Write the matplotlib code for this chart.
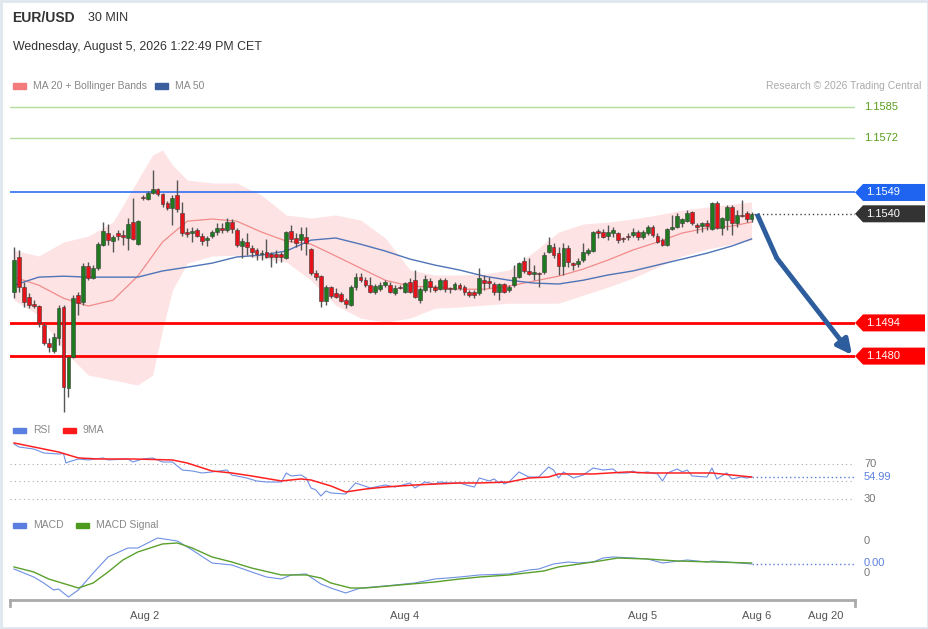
import matplotlib
matplotlib.use("Agg")
import matplotlib.pyplot as plt
from matplotlib.patches import Polygon, Rectangle

plt.rcParams['font.family'] = ['Liberation Sans', 'DejaVu Sans']

# ---------------- data ----------------
# 30 min candles, index 0..149
opens = [1.15070, 1.15218, 1.15091, 1.15049, 1.15019, 1.15011, 1.14931, 1.14855, 1.14821, 1.14876,
         1.15007, 1.14665, 1.14796, 1.15057, 1.15028, 1.15180, 1.15129, 1.15171, 1.15268, 1.15319,
         1.15285, 1.15319, 1.15310, 1.15298, 1.15365, 1.15272, 1.15471, 1.15462, 1.15488, 1.15504,
         1.15483, 1.15445, 1.15424, 1.15479, 1.15403, 1.15323, 1.15319, 1.15331, 1.15306, 1.15289,
         1.15306, 1.15323, 1.15340, 1.15331, 1.15365, 1.15331, 1.15264, 1.15281, 1.15256, 1.15247,
         1.15230, 1.15239, 1.15230, 1.15230, 1.15230, 1.15213, 1.15327, 1.15298, 1.15289, 1.15302,
         1.15251, 1.15150, 1.15137, 1.15032, 1.15091, 1.15066, 1.15061, 1.15036, 1.15015, 1.15091,
         1.15133, 1.15120, 1.15099, 1.15070, 1.15082, 1.15099, 1.15099, 1.15066, 1.15091, 1.15070,
         1.15112, 1.15120, 1.15036, 1.15078, 1.15116, 1.15091, 1.15082, 1.15120, 1.15087, 1.15082,
         1.15099, 1.15091, 1.15070, 1.15070, 1.15066, 1.15120, 1.15116, 1.15104, 1.15070, 1.15104,
         1.15078, 1.15099, 1.15133, 1.15201, 1.15159, 1.15146, 1.15150, 1.15154, 1.15239, 1.15260,
         1.15234, 1.15180, 1.15256, 1.15192, 1.15188, 1.15205, 1.15234, 1.15243, 1.15327, 1.15323,
         1.15306, 1.15319, 1.15319, 1.15298, 1.15306, 1.15310, 1.15323, 1.15302, 1.15319, 1.15344,
         1.15306, 1.15289, 1.15268, 1.15336, 1.15344, 1.15361, 1.15369, 1.15407, 1.15353, 1.15348,
         1.15361, 1.15336, 1.15445, 1.15340, 1.15374, 1.15428, 1.15361, 1.15395, 1.15403, 1.15378]
highs = [1.15260, 1.15247, 1.15112, 1.15066, 1.15036, 1.15015, 1.14939, 1.14876, 1.14897, 1.15015,
         1.15015, 1.14796, 1.15057, 1.15070, 1.15192, 1.15197, 1.15184, 1.15281, 1.15365, 1.15357,
         1.15310, 1.15331, 1.15331, 1.15382, 1.15466, 1.15374, 1.15479, 1.15496, 1.15585, 1.15509,
         1.15488, 1.15454, 1.15479, 1.15542, 1.15450, 1.15340, 1.15344, 1.15340, 1.15319, 1.15306,
         1.15331, 1.15361, 1.15361, 1.15382, 1.15378, 1.15340, 1.15298, 1.15319, 1.15268, 1.15256,
         1.15247, 1.15294, 1.15239, 1.15247, 1.15239, 1.15327, 1.15353, 1.15319, 1.15344, 1.15344,
         1.15256, 1.15163, 1.15142, 1.15099, 1.15095, 1.15087, 1.15070, 1.15044, 1.15099, 1.15150,
         1.15150, 1.15133, 1.15133, 1.15104, 1.15112, 1.15120, 1.15112, 1.15099, 1.15099, 1.15112,
         1.15129, 1.15163, 1.15091, 1.15142, 1.15129, 1.15099, 1.15129, 1.15129, 1.15091, 1.15112,
         1.15108, 1.15099, 1.15078, 1.15078, 1.15171, 1.15142, 1.15133, 1.15112, 1.15108, 1.15108,
         1.15099, 1.15184, 1.15197, 1.15218, 1.15213, 1.15184, 1.15154, 1.15239, 1.15302, 1.15277,
         1.15260, 1.15277, 1.15268, 1.15197, 1.15213, 1.15277, 1.15256, 1.15327, 1.15336, 1.15336,
         1.15353, 1.15344, 1.15323, 1.15302, 1.15319, 1.15340, 1.15331, 1.15331, 1.15353, 1.15353,
         1.15319, 1.15298, 1.15340, 1.15395, 1.15403, 1.15382, 1.15416, 1.15412, 1.15361, 1.15365,
         1.15374, 1.15450, 1.15454, 1.15386, 1.15437, 1.15437, 1.15416, 1.15458, 1.15412, 1.15407]
lows = [1.15044, 1.15070, 1.15007, 1.15002, 1.15002, 1.14922, 1.14846, 1.14817, 1.14813, 1.14846,
        1.14564, 1.14627, 1.14792, 1.14973, 1.15015, 1.15120, 1.15125, 1.15163, 1.15264, 1.15268,
        1.15239, 1.15289, 1.15268, 1.15247, 1.15289, 1.15268, 1.15458, 1.15458, 1.15483, 1.15475,
        1.15428, 1.15416, 1.15353, 1.15407, 1.15306, 1.15302, 1.15281, 1.15302, 1.15268, 1.15264,
        1.15298, 1.15310, 1.15319, 1.15323, 1.15319, 1.15260, 1.15213, 1.15226, 1.15218, 1.15205,
        1.15205, 1.15213, 1.15175, 1.15192, 1.15197, 1.15209, 1.15281, 1.15260, 1.15247, 1.15226,
        1.15142, 1.15120, 1.15007, 1.15015, 1.15044, 1.15044, 1.15028, 1.15002, 1.15011, 1.15078,
        1.15112, 1.15091, 1.15066, 1.15061, 1.15074, 1.15091, 1.15066, 1.15057, 1.15082, 1.15066,
        1.15066, 1.15044, 1.15023, 1.15070, 1.15070, 1.15070, 1.15078, 1.15070, 1.15066, 1.15078,
        1.15078, 1.15057, 1.15049, 1.15044, 1.15057, 1.15078, 1.15087, 1.15057, 1.15036, 1.15066,
        1.15070, 1.15091, 1.15129, 1.15150, 1.15142, 1.15120, 1.15091, 1.15146, 1.15234, 1.15213,
        1.15142, 1.15142, 1.15175, 1.15163, 1.15175, 1.15197, 1.15226, 1.15239, 1.15298, 1.15298,
        1.15289, 1.15302, 1.15277, 1.15281, 1.15289, 1.15302, 1.15289, 1.15294, 1.15310, 1.15302,
        1.15277, 1.15264, 1.15264, 1.15331, 1.15340, 1.15344, 1.15365, 1.15353, 1.15319, 1.15323,
        1.15331, 1.15331, 1.15336, 1.15310, 1.15331, 1.15310, 1.15344, 1.15386, 1.15365, 1.15365]
closes = [1.15205, 1.15091, 1.15028, 1.15015, 1.15011, 1.14939, 1.14855, 1.14838, 1.14880, 1.15002,
          1.14669, 1.14796, 1.15044, 1.15023, 1.15180, 1.15129, 1.15171, 1.15272, 1.15327, 1.15289,
          1.15302, 1.15306, 1.15302, 1.15357, 1.15294, 1.15369, 1.15466, 1.15488, 1.15504, 1.15483,
          1.15441, 1.15424, 1.15466, 1.15420, 1.15319, 1.15315, 1.15327, 1.15306, 1.15285, 1.15298,
          1.15323, 1.15340, 1.15331, 1.15365, 1.15336, 1.15268, 1.15285, 1.15260, 1.15239, 1.15230,
          1.15234, 1.15218, 1.15218, 1.15218, 1.15218, 1.15323, 1.15294, 1.15277, 1.15315, 1.15277,
          1.15150, 1.15133, 1.15032, 1.15091, 1.15053, 1.15049, 1.15032, 1.15019, 1.15091, 1.15133,
          1.15120, 1.15099, 1.15070, 1.15095, 1.15099, 1.15112, 1.15070, 1.15087, 1.15087, 1.15108,
          1.15070, 1.15049, 1.15082, 1.15125, 1.15091, 1.15078, 1.15120, 1.15082, 1.15082, 1.15104,
          1.15087, 1.15070, 1.15057, 1.15057, 1.15129, 1.15108, 1.15108, 1.15070, 1.15104, 1.15070,
          1.15091, 1.15133, 1.15192, 1.15159, 1.15146, 1.15154, 1.15146, 1.15226, 1.15268, 1.15226,
          1.15180, 1.15256, 1.15197, 1.15184, 1.15201, 1.15239, 1.15247, 1.15323, 1.15319, 1.15302,
          1.15323, 1.15331, 1.15289, 1.15294, 1.15302, 1.15323, 1.15302, 1.15323, 1.15344, 1.15310,
          1.15281, 1.15268, 1.15336, 1.15344, 1.15391, 1.15378, 1.15403, 1.15361, 1.15344, 1.15361,
          1.15348, 1.15445, 1.15340, 1.15382, 1.15428, 1.15361, 1.15395, 1.15391, 1.15378, 1.15399]

# moving averages sampled every 5 candles
ma_idx = [0, 5, 10, 15, 20, 25, 30, 35, 40, 45, 50, 55, 60, 65, 70, 75, 80, 85, 90, 95,
          100, 105, 110, 115, 120, 125, 130, 135, 140, 145, 149]
ma50 = [1.15099, 1.15133, 1.15137, 1.15133, 1.15133, 1.15133, 1.15159, 1.15175, 1.15192, 1.15218,
        1.15226, 1.15243, 1.15289, 1.15298, 1.15272, 1.15243, 1.15209, 1.15184, 1.15163, 1.15137,
        1.15120, 1.15108, 1.15104, 1.15120, 1.15142, 1.15159, 1.15184, 1.15209, 1.15234, 1.15264,
        1.15294]
ma20 = [1.15133, 1.15099, 1.15044, 1.15011, 1.15036, 1.15137, 1.15281, 1.15369, 1.15378, 1.15369,
        1.15323, 1.15285, 1.15272, 1.15222, 1.15171, 1.15120, 1.15095, 1.15091, 1.15082, 1.15082,
        1.15095, 1.15116, 1.15137, 1.15167, 1.15205, 1.15247, 1.15281, 1.15319, 1.15340, 1.15348,
        1.15365]

band_idx = [0, 5, 10, 15, 20, 25, 28, 30, 32, 35, 40, 45, 50, 55, 60, 65, 70, 75, 80, 85,
            90, 95, 100, 105, 110, 115, 120, 125, 130, 135, 140, 145, 149]
bb_upper = [1.15247, 1.15222, 1.15281, 1.15306, 1.15365, 1.15542, 1.15648, 1.15669, 1.15606, 1.15542,
            1.15530, 1.15530, 1.15479, 1.15395, 1.15382, 1.15395, 1.15374, 1.15298, 1.15163, 1.15142,
            1.15142, 1.15146, 1.15163, 1.15239, 1.15323, 1.15357, 1.15365, 1.15378, 1.15395, 1.15416,
            1.15428, 1.15441, 1.15450]
bb_lower = [1.15036, 1.14973, 1.14825, 1.14720, 1.14699, 1.14678, 1.14720, 1.14910, 1.15078, 1.15192,
            1.15222, 1.15226, 1.15213, 1.15197, 1.15120, 1.15015, 1.14960, 1.14943, 1.14960, 1.15002,
            1.15007, 1.15015, 1.15023, 1.15023, 1.15023, 1.15057, 1.15091, 1.15129, 1.15175, 1.15222,
            1.15251, 1.15272, 1.15289]

# key levels
level_green = [1.1585, 1.1572]
level_blue = 1.1549
level_last = 1.1540
level_red = [1.1494, 1.1480]

# expected path (candle index, price)
path_idx = [150.1, 154.1, 169.3]
path_price = [1.1540, 1.15213, 1.14805]

# RSI(14) and its 9-period MA
rsi_idx = [0, 1, 4, 6, 9, 10, 10.5, 11, 13, 15, 18, 19, 23, 24, 26, 28, 30, 32, 34, 36,
           38, 40, 43, 44, 47, 49, 51, 54, 55, 56, 58, 59, 60, 61, 62, 63, 64, 67, 69, 72,
           75, 77, 80, 81, 83, 85, 86, 88, 90, 92, 93, 94, 96, 97, 98, 98.5, 99, 100, 102, 104,
           106, 108, 109, 110, 111, 113, 115, 117, 119, 121, 122, 124, 125, 126, 128, 130, 131, 132, 134, 135,
           136, 137, 140, 141, 142, 144, 145, 147, 148, 149]
rsi = [92.9, 89.4, 87.1, 82.6, 81.4, 81.9, 71.1, 72.3, 75.7, 74.6, 76.9, 74.6, 75.7, 72.3, 75.7, 76.9, 72.3, 72.3, 63.1, 62.0,
       59.7, 60.9, 63.1, 57.4, 54.0, 50.6, 49.4, 49.4, 59.7, 56.3, 57.4, 54.0, 42.6, 40.3, 33.4, 39.1, 36.9, 35.7, 48.3, 42.6,
       46.0, 43.7, 48.3, 42.6, 49.4, 47.1, 49.4, 48.3, 48.3, 44.9, 43.7, 54.0, 50.6, 52.9, 48.3, 50.6, 47.1, 49.4, 60.9, 55.1,
       55.1, 66.6, 63.1, 54.0, 60.9, 54.0, 57.4, 65.4, 63.1, 64.3, 59.7, 59.7, 62.0, 59.7, 60.9, 58.6, 50.6, 59.7, 64.3, 60.9,
       63.1, 56.3, 55.1, 65.4, 52.9, 59.7, 52.9, 55.1, 54.0, 54.99]
rsi_ma_idx = [0, 9, 13, 17, 24, 32, 35, 40, 44, 48, 54, 58, 60, 64, 67, 71, 75, 81, 90, 94,
              100, 104, 108, 110, 117, 124, 128, 134, 141, 149]
rsi_ma = [94.0, 83.7, 76.9, 75.7, 75.7, 74.6, 71.1, 62.0, 59.7, 56.3, 50.6, 52.9, 51.7, 44.9, 38.0, 41.4, 43.7, 46.0, 48.3, 48.3,
          49.4, 54.0, 55.1, 58.6, 58.6, 60.9, 59.7, 59.7, 59.7, 55.1]

# MACD and signal
macd_idx = [0, 4, 6, 8, 9, 11, 13, 16, 19, 23, 25, 29, 33, 36, 40, 44, 48, 51, 54, 56,
            59, 62, 64, 67, 70, 75, 81, 85, 90, 94, 100, 104, 106, 109, 112, 114, 117, 119, 121, 125,
            128, 131, 136, 140, 141, 144, 149]
macd = [0.000048, -0.000081, -0.000177, -0.000290, -0.000274, -0.000403, -0.000290, -0.000016, 0.000242, 0.000386,
        0.000386, 0.000547, 0.000499, 0.000354, 0.000145, 0.000113, 0.0, -0.000081, -0.000113, -0.000048,
        -0.000032, -0.000193, -0.000258, -0.000338, -0.000258, -0.000225, -0.000177, -0.000113, -0.000081, -0.000048,
        -0.000032, 0.000032, 0.000048, 0.000129, 0.000161, 0.000145, 0.000161, 0.000225, 0.000242, 0.000225,
        0.000209, 0.000145, 0.000193, 0.000161, 0.000177, 0.000161, 0.000129]
sig_idx = [0, 4, 7, 11, 13, 16, 19, 22, 25, 30, 33, 36, 40, 44, 48, 54, 59, 62, 64, 68,
           71, 78, 85, 90, 94, 100, 107, 110, 117, 122, 128, 134, 141, 149]
signal = [0.000081, 0.0, -0.000113, -0.000209, -0.000258, -0.000177, 0.0, 0.000193, 0.000322, 0.000451,
          0.000467, 0.000386, 0.000242, 0.000161, 0.000064, -0.000048, -0.000048, -0.000097, -0.000177, -0.000258,
          -0.000258, -0.000209, -0.000161, -0.000113, -0.000081, -0.000048, 0.000016, 0.000081, 0.000161, 0.000225,
          0.000209, 0.000177, 0.000161, 0.000145]

tick_pos = [26.3, 79, 127, 150, 164]
tick_labels = ["Aug 2", "Aug 4", "Aug 5", "Aug 6", "Aug 20"]

# ---------------- styling ----------------
W, H = 929, 629
GREEN = '#1f7a1f'
RED = '#e8121a'
WICK = '#555555'
XLIM = (-0.81, 169.9)


def box(x0, y0, x1, y1):
    # pixel box (top-left origin) -> figure fraction rect
    return [x0 / W, 1 - y1 / H, (x1 - x0) / W, (y1 - y0) / H]


def clean(ax):
    for s in ax.spines.values():
        s.set_visible(False)
    ax.set_xticks([])
    ax.set_yticks([])
    ax.set_xlim(*XLIM)


fig = plt.figure(figsize=(W / 100, H / 100), dpi=100)
fig.patch.set_facecolor('white')
fig.patches.append(Rectangle((0.001, 0.001), 0.998, 0.998, transform=fig.transFigure,
                             fill=False, edgecolor='#dfe6ee', lw=2))

# header
fig.text(12 / W, 1 - 18 / H, "EUR/USD", fontsize=10, fontweight='bold', color='#333333', va='center')
fig.text(88 / W, 1 - 18 / H, "30 MIN", fontsize=9, color='#333333', va='center')
fig.text(13 / W, 1 - 47 / H, "Wednesday, August 5, 2026 1:22:49 PM CET", fontsize=8.9,
         color='#333333', va='center')


def legend_item(x, y, color, label):
    fig.patches.append(Rectangle((x / W, 1 - (y + 2.5) / H), 13 / W, 5 / H,
                                 transform=fig.transFigure, color=color))
    fig.text((x + 20) / W, 1 - y / H, label, fontsize=7.5, color='#888888', va='center')


legend_item(13, 86, '#f47b7b', "MA 20 + Bollinger Bands")
legend_item(155, 86, '#3a5e9e', "MA 50")
fig.text(921 / W, 1 - 86 / H, "Research \u00a9 2026 Trading Central", fontsize=7.5,
         color='#aaaaaa', va='center', ha='right')

# ---------------- price panel ----------------
ax = fig.add_axes(box(10, 95, 855, 418))
clean(ax)
ax.set_ylim(1.14539, 1.15901)

ax.fill_between(band_idx, bb_lower, bb_upper, color='#fde3e3', lw=0, zorder=1)
ax.plot(ma_idx, ma20, color='#f28b8b', lw=0.9, zorder=2)
ax.plot(ma_idx, ma50, color='#4f74b8', lw=1.0, zorder=2)

for lv in level_green:
    ax.axhline(lv, color='#b7dc9f', lw=1, zorder=1)
ax.axhline(level_blue, color='#2f6ff0', lw=1.2, zorder=1)
for lv in level_red:
    ax.axhline(lv, color='#ff0000', lw=2, zorder=1)

xs = list(range(len(opens)))
ax.vlines(xs, lows, highs, color=WICK, lw=1, zorder=3)
for i in xs:
    o, c = opens[i], closes[i]
    col = GREEN if c >= o else RED
    h = max(abs(c - o), 0.00003)
    ax.bar(i, h, bottom=min(o, c), width=0.78, color=col, edgecolor='#3a3a3a',
           linewidth=0.4, zorder=4)

ax.hlines(level_last, xs[-1] + 0.5, XLIM[1], colors='#444444', linestyles=(0, (1, 2)), lw=1, zorder=3)

# projected path
ax.plot(path_idx[:2], path_price[:2], color='#2d5d9c', lw=3.5, solid_capstyle='butt', zorder=5)
ax.annotate("", xy=(path_idx[2], path_price[2]), xytext=(path_idx[1], path_price[1]),
            arrowprops=dict(arrowstyle='-|>', color='#2d5d9c', lw=3.5, mutation_scale=22,
                            shrinkA=0, shrinkB=0), zorder=5, annotation_clip=False)

fig.canvas.draw()


def price_px(price):
    return ax.transData.transform((0, price))[1]


def tag(price, text, color):
    y = price_px(price)
    hh = 8.5
    pts = [(855, y), (863, y - hh), (925, y - hh), (925, y + hh), (863, y + hh)]
    pts = [(px / W, py / H) for px, py in pts]
    fig.patches.append(Polygon(pts, closed=True, transform=fig.transFigure,
                               facecolor=color, edgecolor='none'))
    fig.text(866 / W, y / H, text, fontsize=8, color='white', va='center')


for lv in level_green:
    fig.text(864 / W, price_px(lv) / H, f"{lv:.4f}", fontsize=8, color='#5aa01e', va='center')
tag(level_blue, f"{level_blue:.4f}", '#1f64f0')
tag(level_last, f"{level_last:.4f}", '#333333')
for lv in level_red:
    tag(lv, f"{lv:.4f}", '#ff0000')

# ---------------- RSI panel ----------------
ax_rsi = fig.add_axes(box(10, 440, 855, 508))
clean(ax_rsi)
ax_rsi.set_ylim(19.7, 97.4)
for lv in [70, 50, 30]:
    ax_rsi.axhline(lv, color='#aaaaaa', lw=0.8, linestyle=(0, (1, 3)))
ax_rsi.plot(rsi_idx, rsi, color='#6e8fe3', lw=0.8)
ax_rsi.plot(rsi_ma_idx, rsi_ma, color='#ff2020', lw=1.1)
ax_rsi.hlines(rsi[-1], rsi_idx[-1], XLIM[1], colors='#5b7fe0', linestyles=(0, (1, 2)), lw=1)
rx = (864 - 10) / 845
ax_rsi.text(rx, 70, "70", transform=ax_rsi.get_yaxis_transform(), fontsize=8, color='#777777', va='center')
ax_rsi.text(rx, 30, "30", transform=ax_rsi.get_yaxis_transform(), fontsize=8, color='#777777', va='center')
ax_rsi.text(rx, rsi[-1], f"{rsi[-1]:.2f}", transform=ax_rsi.get_yaxis_transform(), fontsize=8,
            color='#5b7fe0', va='center')
legend_item(13, 430, '#5b7fe0', "RSI")
legend_item(63, 430, '#ff1a1a', "9MA")

# ---------------- MACD panel ----------------
ax_m = fig.add_axes(box(10, 530, 855, 600))
for s in ['top', 'right', 'left']:
    ax_m.spines[s].set_visible(False)
ax_m.spines['bottom'].set_color('#aaaaaa')
ax_m.spines['bottom'].set_linewidth(2)
ax_m.set_xlim(*XLIM)
ax_m.set_ylim(-0.000451, 0.000676)
ax_m.set_yticks([])
ax_m.set_xticks(tick_pos)
ax_m.set_xticklabels(tick_labels)
ax_m.tick_params(axis='x', length=0, pad=8, labelsize=8, labelcolor='#555555')
for xe in [0, 1]:
    ax_m.plot([xe, xe], [0, -0.08], transform=ax_m.transAxes, color='#aaaaaa', lw=2, clip_on=False)

ax_m.plot(macd_idx, macd, color='#6e8fe3', lw=0.8)
ax_m.plot(sig_idx, signal, color='#5aa02c', lw=1.0)
ax_m.hlines(macd[-1], macd_idx[-1], XLIM[1], colors='#5b7fe0', linestyles=(0, (1, 2)), lw=1)
ytr = ax_m.get_yaxis_transform()
ax_m.text(rx, 0.0005, "0", transform=ytr, fontsize=8, color='#777777', va='center')
ax_m.text(rx, -0.00002, "0", transform=ytr, fontsize=8, color='#777777', va='center')
ax_m.text(rx, macd[-1] + 0.00002, "0.00", transform=ytr, fontsize=8, color='#5b7fe0', va='center',
          bbox=dict(facecolor='white', edgecolor='none', pad=0.2))
legend_item(13, 525, '#5b7fe0', "MACD")
legend_item(76, 525, '#4d9a1e', "MACD Signal")

fig.savefig("out.png", dpi=100)
